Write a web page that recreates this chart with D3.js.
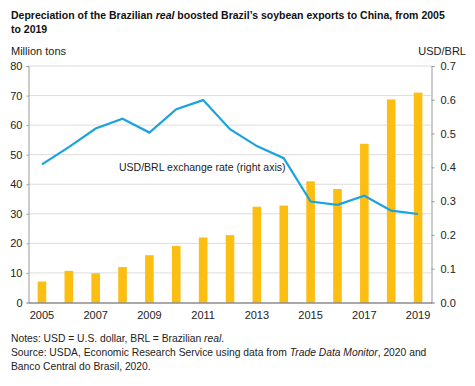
<!DOCTYPE html>
<html>
<head>
<meta charset="utf-8">
<script src="https://cdn.jsdelivr.net/npm/d3@7"></script>
<style>
  body { margin: 0; background: #fff; }
  svg { font-family: "Liberation Sans", Arial, sans-serif; }
</style>
</head>
<body>
<div id="chart"></div>
<script>
// data
const years = [2005, 2006, 2007, 2008, 2009, 2010, 2011, 2012, 2013, 2014, 2015, 2016, 2017, 2018, 2019];
const exports = [7.1, 10.7, 9.9, 12.0, 16.0, 19.1, 22.0, 22.8, 32.4, 32.8, 41.0, 38.4, 53.7, 68.7, 71.0];
const usdBrl = [0.409, 0.460, 0.515, 0.544, 0.503, 0.572, 0.599, 0.513, 0.463, 0.427, 0.299, 0.289, 0.316, 0.272, 0.262];
const leftTicks = [0, 10, 20, 30, 40, 50, 60, 70, 80];
const rightTicks = [0, 0.1, 0.2, 0.3, 0.4, 0.5, 0.6, 0.7];
const xLabels = [2005, 2007, 2009, 2011, 2013, 2015, 2017, 2019];

const width = 475, height = 386;
const margin = { top: 66, left: 28.5, bottom: 83.5, right: 43.5 };

const svg = d3.select("#chart").append("svg")
  .attr("width", width)
  .attr("height", height);

const x = d3.scaleBand().domain(years).range([margin.left, width - margin.right]);
const yLeft = d3.scaleLinear().domain([0, 80]).range([height - margin.bottom, margin.top]);
const yRight = d3.scaleLinear().domain([0, 0.7]).range([height - margin.bottom, margin.top]);

// title
svg.append("text").attr("x", 11).attr("y", 19)
  .style("font-size", "10.5px").style("font-weight", "bold").attr("fill", "#111")
  .call(t => {
    t.append("tspan").text("Depreciation of the Brazilian ");
    t.append("tspan").style("font-style", "italic").text("real");
    t.append("tspan").text(" boosted Brazil\u2019s soybean exports to China, from 2005");
  });
svg.append("text").attr("x", 11).attr("y", 33)
  .style("font-size", "10.5px").style("font-weight", "bold").attr("fill", "#111")
  .text("to 2019");

svg.append("text").attr("x", 11).attr("y", 55)
  .style("font-size", "11px").attr("fill", "#222").text("Million tons");
svg.append("text").attr("x", 466).attr("y", 55).attr("text-anchor", "end")
  .style("font-size", "11px").attr("fill", "#222").text("USD/BRL");

// gridlines
svg.append("g")
  .selectAll("line")
  .data(leftTicks.filter(d => d > 0))
  .join("line")
  .attr("x1", margin.left)
  .attr("x2", width - margin.right)
  .attr("y1", d => yLeft(d))
  .attr("y2", d => yLeft(d))
  .attr("stroke", "#dcdcdc")
  .attr("stroke-width", 1);

// bars
const barW = x.bandwidth() * 0.32;
svg.append("g")
  .selectAll("rect")
  .data(years)
  .join("rect")
  .attr("x", d => x(d) + x.bandwidth() / 2 - barW / 2)
  .attr("width", barW)
  .attr("y", (d, i) => yLeft(exports[i]))
  .attr("height", (d, i) => yLeft(0) - yLeft(exports[i]))
  .attr("fill", "#fdbe12");

// exchange rate line
const line = d3.line()
  .x((d, i) => x(years[i]) + x.bandwidth() / 2)
  .y(d => yRight(d));
svg.append("path")
  .datum(usdBrl)
  .attr("d", line)
  .attr("fill", "none")
  .attr("stroke", "#1ba3e0")
  .attr("stroke-width", 2.2)
  .attr("stroke-linejoin", "miter");

svg.append("text").attr("x", 119).attr("y", 171)
  .style("font-size", "10.5px").attr("fill", "#222")
  .text("USD/BRL exchange rate (right axis)");

// left axis
const axisL = svg.append("g")
  .attr("transform", `translate(${margin.left},0)`)
  .call(d3.axisLeft(yLeft).tickValues(leftTicks).tickSize(2).tickPadding(4));
axisL.select(".domain").attr("stroke", "#999");
axisL.selectAll(".tick line").attr("stroke", "#999");
axisL.selectAll("text").style("font-size", "11px").attr("fill", "#222").attr("font-family", null);

// right axis
const axisR = svg.append("g")
  .attr("transform", `translate(${width - margin.right},0)`)
  .call(d3.axisRight(yRight).tickValues(rightTicks).tickFormat(d3.format(".1f")).tickSize(3).tickPadding(6));
axisR.select(".domain").attr("stroke", "#999");
axisR.selectAll(".tick line").attr("stroke", "#999");
axisR.selectAll("text").style("font-size", "11px").attr("fill", "#222").attr("font-family", null);

// bottom axis
const axisB = svg.append("g")
  .attr("transform", `translate(0,${height - margin.bottom})`)
  .call(d3.axisBottom(x).tickValues(xLabels).tickSize(0).tickPadding(9));
axisB.select(".domain").attr("stroke", "#555").attr("stroke-width", 1.2);
axisB.selectAll("text").style("font-size", "11px").attr("fill", "#222").attr("font-family", null);

// notes
const notes = svg.append("g").style("font-size", "10.3px").attr("fill", "#222");
notes.append("text").attr("x", 11).attr("y", 342)
  .call(t => {
    t.append("tspan").text("Notes: USD = U.S. dollar, BRL = Brazilian ");
    t.append("tspan").style("font-style", "italic").text("real");
    t.append("tspan").text(".");
  });
notes.append("text").attr("x", 11).attr("y", 356)
  .call(t => {
    t.append("tspan").text("Source: USDA, Economic Research Service using data from ");
    t.append("tspan").style("font-style", "italic").text("Trade Data Monitor");
    t.append("tspan").text(", 2020 and");
  });
notes.append("text").attr("x", 11).attr("y", 370)
  .text("Banco Central do Brasil, 2020.");
</script>
</body>
</html>
